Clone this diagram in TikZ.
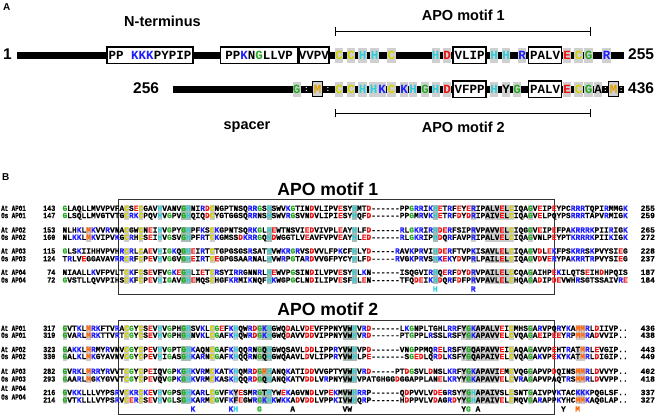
\documentclass[tikz,border=0pt]{standalone}
\usepackage{graphicx}
\usepackage{fontspec}
\setmainfont{Liberation Sans}
\newfontfamily\monof{Liberation Mono}[BoldFeatures={FakeBold=0.5}]
\newfontfamily\monoa{Liberation Mono}
\definecolor{sqblue}{HTML}{1E1EFF}
\definecolor{sqred}{HTML}{EE1111}
\definecolor{sqgreen}{HTML}{22AA22}
\definecolor{sqyellow}{HTML}{D2D200}
\definecolor{sqcyan}{HTML}{30CCD8}
\definecolor{sqorange}{HTML}{FF6A10}
\definecolor{shlt}{HTML}{CCCCCC}
\definecolor{shdk}{HTML}{A9BCB1}
\definecolor{cellgrey}{HTML}{D0D0D0}
\definecolor{mgold}{HTML}{E0A000}
\definecolor{boxline}{HTML}{333333}

\ExplSyntaxOn
\dim_const:Nn \c_sq_w_dim {4.75pt}
\clist_new:N \g_sq_shade_clist
\clist_new:N \g_sq_dark_clist
\clist_new:N \g_sq_green_clist
\clist_new:N \l_sq_extra_clist
\int_new:N \l_sq_col_int
\tl_new:N \l_sq_coltl
\tl_new:N \l_sq_color_tl
\bool_new:N \l_sq_sh_bool
\bool_new:N \l_sq_dk_bool
\bool_new:N \l_sq_gr_bool
\NewDocumentCommand \SeqCols {mmm}
  {
    \clist_gset:Nn \g_sq_shade_clist {#1}
    \clist_gset:Nn \g_sq_dark_clist {#2}
    \clist_gset:Nn \g_sq_green_clist {#3}
  }
\cs_new_protected:Npn \sq_char:n #1
  {
    \tl_set:Nx \l_sq_coltl { \int_use:N \l_sq_col_int }
    \bool_set_false:N \l_sq_sh_bool
    \bool_set_false:N \l_sq_dk_bool
    \bool_set_false:N \l_sq_gr_bool
    \clist_if_in:NVT \g_sq_shade_clist \l_sq_coltl { \bool_set_true:N \l_sq_sh_bool }
    \clist_if_in:NVT \l_sq_extra_clist \l_sq_coltl { \bool_set_true:N \l_sq_sh_bool }
    \clist_if_in:NVT \g_sq_dark_clist \l_sq_coltl
      { \bool_set_true:N \l_sq_sh_bool \bool_set_true:N \l_sq_dk_bool }
    \clist_if_in:NVT \g_sq_green_clist \l_sq_coltl { \bool_set_true:N \l_sq_gr_bool }
    \tl_set:Nn \l_sq_color_tl {black}
    \str_case:nn {#1}
      {
        {K} { \tl_set:Nn \l_sq_color_tl {sqblue} }
        {R} { \tl_set:Nn \l_sq_color_tl {sqblue} }
        {D} { \tl_set:Nn \l_sq_color_tl {sqred} }
        {E} { \tl_set:Nn \l_sq_color_tl {sqred} }
      }
    \bool_if:NT \l_sq_sh_bool
      {
        \str_case:nn {#1}
          {
            {C} { \tl_set:Nn \l_sq_color_tl {sqyellow} }
            {H} { \tl_set:Nn \l_sq_color_tl {sqcyan} }
            {G} { \tl_set:Nn \l_sq_color_tl {sqgreen} }
            {M} { \tl_set:Nn \l_sq_color_tl {sqorange} }
          }
      }
    \bool_if:NT \l_sq_gr_bool
      { \str_if_eq:nnT {#1} {G} { \tl_set:Nn \l_sq_color_tl {sqgreen} } }
    \bool_if:NT \l_sq_sh_bool
      {
        \rlap
          {
            \bool_if:NTF \l_sq_dk_bool
              { \textcolor{shdk}{ \rule[-1.8pt]{\c_sq_w_dim}{7.6pt} } }
              { \textcolor{shlt}{ \rule[-1.8pt]{\c_sq_w_dim}{7.6pt} } }
          }
      }
    \makebox[\c_sq_w_dim][c]{ \textcolor{\l_sq_color_tl}{#1} }
    \int_incr:N \l_sq_col_int
  }
\NewDocumentCommand \Seq {mm}
  {
    \clist_set:Nn \l_sq_extra_clist {#2}
    \int_zero:N \l_sq_col_int
    \tl_map_inline:nn {#1} { \sq_char:n {##1} }
  }
\ExplSyntaxOff

\tikzset{
  backbone/.style={line width=7pt, black},
  cellA/.style={fill=cellgrey, minimum width=8.3pt, minimum height=14.5pt, inner sep=0pt,
    font=\monoa\bfseries\fontsize{12.5}{12.5}\selectfont},
  boxA/.style={draw=black, line width=1.2pt, fill=white, minimum height=16.6pt, inner sep=0pt,
    font=\monoa\bfseries\fontsize{12.5}{12.5}\selectfont},
  mboxA/.style={draw=black, line width=1pt, fill=cellgrey, minimum width=10pt, minimum height=15pt,
    inner sep=0pt, text=mgold, font=\monoa\bfseries\fontsize{12.5}{12.5}\selectfont},
  gapmark/.style={inner sep=0pt, text=white, font=\bfseries\fontsize{8}{8}\selectfont},
  headA/.style={anchor=base, inner sep=0pt, font=\bfseries\fontsize{14.5}{14.5}\selectfont},
  numA/.style={anchor=base west, inner sep=0pt, font=\bfseries\fontsize{15.5}{15.5}\selectfont},
  panel/.style={anchor=base west, inner sep=0pt, font=\bfseries\fontsize{10}{10}\selectfont},
  brk/.style={line width=0.9pt, black},
  titleB/.style={anchor=base, inner sep=0pt, font=\bfseries\fontsize{17.6}{17.6}\selectfont},
  motifbox/.style={draw=boxline, line width=0.9pt},
  seqtxt/.style={anchor=base west, inner sep=0pt, font=\monof\bfseries\fontsize{7.9}{8}\selectfont},
  lab/.style={anchor=base west, inner sep=0pt, font=\monof\bfseries\fontsize{7.9}{8}\selectfont},
  num/.style={anchor=base east, inner sep=0pt, font=\monof\bfseries\fontsize{7.9}{8}\selectfont},
  endnum/.style={anchor=base west, inner sep=0pt, font=\monof\bfseries\fontsize{7.9}{8}\selectfont},
  cons/.style={anchor=base, inner sep=0pt, font=\monof\bfseries\fontsize{7.9}{8}\selectfont}
}

% y-base, label-y, label, start number, sequence, extra shaded columns, end number
\newcommand\SeqRow[7]{%
  \node[lab] at (1,#2) {\scalebox{0.74}[1]{#3}};
  \node[num] at (55.5,#1) {\scalebox{0.85}[1]{#4}};
  \node[seqtxt] at (62.3,#1) {\Seq{#5}{#6}};
  \node[endnum] at (640.5,#1) {#7};
}
\newcommand\ConsL[4]{% column, y, colour, letter
  \node[cons, text=#3] at ({62.3+(#1+0.5)*4.75},#2) {#4};
}

\begin{document}
\begin{tikzpicture}[x=1pt,y=-1pt]
\useasboundingbox (0,0) rectangle (656,417);
\fill[white] (0,0) rectangle (656,417);

% ================= Panel A =================
\node[panel] (labA) at (3,10.5) {A};
\node[headA] (nterm) at (162.5,26.7) {N-terminus};
\node[headA] (mot1) at (463.3,21) {APO motif 1};
\node[headA] (mot2) at (463.3,133) {APO motif 2};
\node[headA] (spacer) at (247,130) {spacer};

\node[numA] (n1) at (3,59.3) {1};
\node[numA] (n255) at (628,60) {255};
\node[numA] (n256) at (133,93.3) {256};
\node[numA] (n436) at (628,93.3) {436};

% motif brackets
\coordinate (b1a) at (335,31.7);
\coordinate (b1b) at (590,31.7);
\draw[brk] (b1a) -- (b1b);
\draw[brk] ([yshift=-4.2pt]b1a) -- ([yshift=4.2pt]b1a);
\draw[brk] ([yshift=-4.2pt]b1b) -- ([yshift=4.2pt]b1b);
\coordinate (b2a) at (335,113.3);
\coordinate (b2b) at (590,113.3);
\draw[brk] (b2a) -- (b2b);
\draw[brk] ([yshift=-4.2pt]b2a) -- ([yshift=4.2pt]b2a);
\draw[brk] ([yshift=-4.2pt]b2b) -- ([yshift=4.2pt]b2b);

% line 1
\coordinate (l1s) at (16.7,55.3);
\coordinate (l1e) at (624,55.3);
\draw[backbone] (l1s) -- (l1e);
\node[boxA, minimum width=86pt] (bx1) at (150,55.3) {PP \textcolor{sqblue}{KKK}PYPIP};
\node[boxA, minimum width=77pt] (bx2) at (259.2,55.3) {PP\textcolor{sqblue}{K}N\textcolor{sqgreen}{G}LLVP};
\node[boxA, minimum width=29.7pt] (bx3) at (313.9,55.3) {VVPV};
\node[cellA, text=sqyellow] (c11) at (339,55.3) {C};
\node[cellA, text=sqyellow] (c12) at (351,55.3) {C};
\node[cellA, text=sqcyan] (c13) at (362.5,55.3) {H};
\node[cellA, text=sqcyan] (c14) at (374.5,55.3) {H};
\node[cellA, text=sqyellow] (c15) at (391.5,55.3) {C};
\node[cellA, text=sqcyan] (c16) at (435.7,55.3) {H};
\node[cellA, text=sqred] (c17) at (447,55.3) {D};
\node[boxA, minimum width=33pt] (bx4) at (469.5,55.3) {VLIP};
\node[cellA, text=sqcyan] (c18) at (494,55.3) {H};
\node[cellA, text=sqcyan] (c19) at (506,55.3) {H};
\node[cellA, text=sqblue] (c110) at (522,55.3) {R};
\node[boxA, minimum width=33pt] (bx5) at (545.2,55.3) {PALV};
\node[cellA, text=sqred] (c111) at (567,55.3) {E};
\node[cellA, text=sqyellow] (c112) at (578.5,55.3) {C};
\node[cellA, text=sqgreen] (c113) at (588.5,55.3) {G};
\node[cellA, text=sqblue] (c114) at (606.5,55.3) {R};

% line 2
\coordinate (l2s) at (172.7,89.3);
\coordinate (l2e) at (624,89.3);
\draw[backbone] (l2s) -- (l2e);
\node[cellA, text=sqgreen] (c21) at (296.7,89.3) {G};
\node[gapmark] (k1) at (306.5,89.3) {:};
\node[mboxA] (mb1) at (317.7,89.3) {M};
\node[gapmark] (k2) at (328,89.3) {:};
\node[cellA, text=sqyellow] (c22) at (339,89.3) {C};
\node[cellA, text=sqyellow] (c23) at (351,89.3) {C};
\node[cellA, text=sqcyan] (c24) at (362.5,89.3) {H};
\node[cellA, text=sqcyan] (c25) at (373.5,89.3) {H};
\node[cellA, text=sqblue] (c26) at (382,89.3) {K};
\node[cellA, text=sqyellow] (c27) at (391.5,89.3) {C};
\node[cellA, text=sqblue] (c28) at (404,89.3) {K};
\node[cellA, text=sqcyan] (c29) at (413,89.3) {H};
\node[cellA, text=sqgreen] (c210) at (425,89.3) {G};
\node[cellA, text=sqcyan] (c211) at (435.7,89.3) {H};
\node[cellA, text=sqred] (c212) at (447,89.3) {D};
\node[boxA, minimum width=33pt] (bx6) at (469.5,89.3) {VFPP};
\node[cellA, text=sqcyan] (c213) at (494,89.3) {H};
\node[cellA, text=black] (c214) at (506,89.3) {Y};
\node[cellA, text=sqgreen] (c215) at (517,89.3) {G};
\node[boxA, minimum width=33pt] (bx7) at (545.2,89.3) {PALV};
\node[cellA, text=sqred] (c216) at (567,89.3) {E};
\node[cellA, text=sqyellow] (c217) at (578.5,89.3) {C};
\node[cellA, text=sqgreen] (c218) at (588.5,89.3) {G};
\node[cellA, text=black] (c219) at (598,89.3) {A};
\node[gapmark] (k3) at (605.5,89.3) {:};
\node[mboxA] (mb2) at (613.7,89.3) {M};
\node[gapmark] (k4) at (621.3,89.3) {:};

% ================= Panel B =================
\node[panel] (labB) at (2,180.5) {B};
\node[titleB] (tit1) at (327.8,195) {APO motif 1};
\node[titleB] (tit2) at (327.8,315) {APO motif 2};
\draw[motifbox] (118,199) rectangle (554,294.5);
\draw[motifbox] (118,320) rectangle (554,414.7);

% block 1
\SeqCols{13,16,20,31,86,89,90,91,92,93,94,98}{25,26,43,61,78}{0,22,41,48,73}
\SeqRow{210.9}{210.9}{At APO1}{143}{GLAQLLMVVPVFACSECGAVHVANVGHNIRDCNGPTNSQRRGSHSWVKGTINDVLIPVESYHMTD------PPGRRIKHETRFEYERIPALVELCIQAGVEIPEYPCRRRTQPIRMMGK}{}{255}
\SeqRow{218.1}{218.1}{Os APO1}{147}{GLSQLLMVGTVTGCRKCPQVHVGPVGHQIQDCYGTGGSQRRNSHSWVRGSVNDVLIPIESYHQFD------PPGMRVKHETRFDYDRIPAIVELCIQAGVELPQYPSRRRTAPVRMIGK}{}{259}
\SeqRow{232.6}{232.6}{At APO2}{153}{NLHKLMKVVRVNACGWCNEIHVGPYGHPFKSCKGPNTSQRKGLHEWTNSVIEDVIVPLEAYHLFD------RLGKRIRHDERFSIPRVPAVVELCIQGGVEIPEFPAKRRRKPIIRIGK}{5}{265}
\SeqRow{239.9}{239.9}{Os APO2}{160}{NLKKLMKVIPVKGCRHCSEIHVGSVGHPFRTCKGMSSDKRRGQHDWGGTLVEAVFVPVEAYHLED------RLGKRIPHDQRFAVPRIPALVELCIQAGVNLPEYPTKRRRKPIIKIGK}{5}{272}
\SeqRow{253.6}{253.6}{At APO3}{115}{GLSKIIHHVPVHRCRLCAEVHIGKQGHEIRTCTGPGSGSRSATHVWKRGRVSDVVLFPKCFHLYD-----RAVKPRVIHDERFTVPKISAVLELCIQAGVDLEKFPSKRRSKPVYSIEG}{}{228}
\SeqRow{261.3}{261.3}{Os APO3}{124}{TRLVEGGAVAVRRCRFCPEVHVGGVGHEIRTCEGPGSAARNALHVWRPGTARDVVGFPYCYHLFD-----RVGKPRVSHKEKYDVPRLPAILELCIQAGVDVERYPAKRRTRPVYSIEG}{}{237}
\SeqRow{274.9}{274.9}{At APO4}{74}{NIAALLKVFPVLTCKFCSEVFVGKEGHLIETCRSYIRRGNNRLHEWVPGSINDILVPVESYHLKN------ISQGVIRHQERFDYDRVPAILELCCQAGAIHPEKILQTSEIHDHPQIS}{}{187}
\SeqRow{282.6}{282.6}{Os APO4}{72}{GVSTLLQVVPIHSCKFCPEVHIGAVGHEMQSCHGFKRMIKNQFHKWGPGCLNDILIPVESFHLEN------TFQDEIKHDQRFDFPRVPAVLELCHQAGADIPDEVWHRSGTSSAIVRE}{}{184}
\ConsL{78}{291.6}{sqcyan}{H}
\ConsL{86}{291.6}{sqblue}{R}

% block 2
\SeqCols{0,13,16,20,31,36,41,84,86,87,88,89,90,91,94,98,108,109}{25,26,42,43,59,60,61,85}{14,22,32,73}
\SeqRow{330.9}{330.9}{At APO1}{317}{GVTKLMRKFTVRACGYCSEVHVGPHGHSVKLCGEFKHQWRDGKHGWQDALVDEVFPPNYVWHVRD------LKGNPLTGHLRRFYGKAPALVEICMHSGARVPQRYKAMMRLDIIVP..}{5}{436}
\SeqRow{337.8}{337.8}{Os APO1}{319}{GVARLMRKTTVRTCGYCSEVHVGPHGHNVKLCGAFKHQWRDGKHGWQDAVVDDVIPPNYVWHVRD------PTGPPLRSSLRSFYGKAPAVVELCVQAGAEIPEEYRPMMRADVVIP..}{5}{438}
\SeqRow{352.1}{352.1}{At APO2}{323}{GAKKLMRMYRVNVCGYCPEVHVGPTGHKAQNCGAFKHQQRNGQHGWQSAVLDDLIPPRYVWHVPD------VNGPPMQRELRSFYGQAPAVVEICAQAGAVVPEHTRATMRLEVGIP..}{5}{443}
\SeqRow{359.1}{359.1}{Os APO2}{330}{GALKLMKGYAVNVCGYCPEVHIGASGHKARNCGAFKHQQRNGQHGWQAAVLDVLIPPRYVWHLPE-------SGEDLQRDLKSFYGQAPAIVELCVQAGAKVPEKYKATMRLDIGIP..}{5}{449}
\SeqRow{373.9}{373.9}{At APO3}{282}{GVRKLMRRYRVVTCGYCPEIQVGPKGHKVRMCKATKHQMRDGMHANQKATIDDVVGPTYVWHVRD-----PTDGSVLDNSLKRFYGKAPAVIEMCVQGGAPVPDQINSMMRLDVVYP..}{5}{402}
\SeqRow{381.6}{381.6}{Os APO3}{293}{GAARLMGKYGVVTCGYCPEVQVGPKGHKVRMCKASKHQQRDGQHANQKATVDDLVRPNYVWHVPATGHGGDGGAPPLANELKRYYGKAPAVVELCVRAGAPVPAQTRSMMRLDVVPP..}{5}{418}
\SeqRow{395.1}{390.9}{At APO4}{216}{GVKKLLLVYPSRVCKRCKEVHVGPSGHKARLCGVFKYESMRGTHYWEKAGVNDLVPEKMVWHRRP------QDPVVLVDEGRSYYGHAPAIVSLCSNTGAIVPVKTACKKKPQGLSF..}{}{337}
\SeqRow{402.6}{399.6}{Os APO4}{214}{GVTKLLLVYPSRVCERCSEVHVGLSGHKARMCGVFKFEGWRGKHKWKKADVDDLVPPKIVWHQRP------HDPPVLVDAGRDYYGHAPAIVELCMQVGARAPPKYHCMMKAQGLAP..}{}{327}
\ConsL{27}{411.6}{sqblue}{K}
\ConsL{35}{411.6}{sqblue}{K}
\ConsL{36}{411.6}{sqcyan}{H}
\ConsL{41}{411.6}{sqgreen}{G}
\ConsL{48}{411.6}{black}{A}
\ConsL{59}{411.6}{black}{V}
\ConsL{60}{411.6}{black}{W}
\ConsL{84}{411.6}{black}{Y}
\ConsL{85}{411.6}{sqgreen}{G}
\ConsL{87}{411.6}{black}{A}
\ConsL{105}{411.6}{black}{Y}
\ConsL{108}{411.6}{sqorange}{M}
\end{tikzpicture}
\end{document}
